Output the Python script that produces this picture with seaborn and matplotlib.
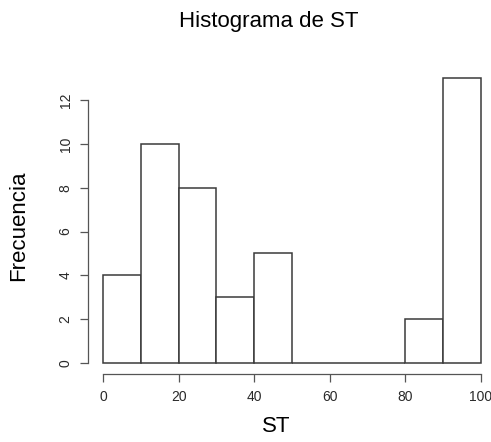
import numpy as np
import pandas as pd
import seaborn as sns
import matplotlib.pyplot as plt

bin_edges = [0, 10, 20, 30, 40, 50, 60, 70, 80, 90, 100]
bin_centers = [5, 15, 25, 35, 45, 55, 65, 75, 85, 95]
frecuencias = [4, 10, 8, 3, 5, 0, 0, 0, 2, 13]
x_ticks = [0, 20, 40, 60, 80, 100]
y_ticks = [0, 2, 4, 6, 8, 10, 12]

df = pd.DataFrame({'ST': bin_centers, 'n': frecuencias})

sns.set_style('white')
plt.rcParams['font.family'] = ['Liberation Sans', 'DejaVu Sans']

W, H = 491, 442
fig = plt.figure(figsize=(W / 100, H / 100), dpi=100)
left, right = 88, 496
top, bottom = 66.7, 374.4
ax = fig.add_axes([left / W, 1 - bottom / H, (right - left) / W, (bottom - top) / H])

sns.histplot(data=df, x='ST', weights='n', bins=bin_edges, ax=ax,
             color='white', edgecolor='#3a3a3a', linewidth=1.1, alpha=1)

ax.set_xlim(-4, 104)
ax.set_ylim(-0.52, 13.52)
ax.set_xticks(x_ticks)
ax.set_yticks(y_ticks)
ax.set_xticklabels([str(v) for v in x_ticks], fontsize=10, color='#2a2a2a')
ax.set_yticklabels([str(v) for v in y_ticks], fontsize=10, color='#2a2a2a',
                   rotation=90, va='center')
ax.tick_params(axis='both', length=6, width=0.9, color='#555555', pad=5, bottom=True, left=True)

for s in ['top', 'right']:
    ax.spines[s].set_visible(False)
ax.spines['left'].set_bounds(0, 12)
ax.spines['bottom'].set_bounds(0, 100)
for s in ['left', 'bottom']:
    ax.spines[s].set_color('#555555')
    ax.spines[s].set_linewidth(0.9)

ax.set_xlabel('')
ax.set_ylabel('')
fig.text(276 / W, 1 - 427 / H, 'ST', ha='center', va='center', fontsize=16, color='black')
fig.text(19 / W, 1 - 226 / H, 'Frecuencia', ha='center', va='center', rotation=90,
         fontsize=16, color='black')
fig.text(269 / W, 1 - 27 / H, 'Histograma de ST', ha='center', va='baseline',
         fontsize=16, color='black')

fig.savefig('out.png', dpi=100)
